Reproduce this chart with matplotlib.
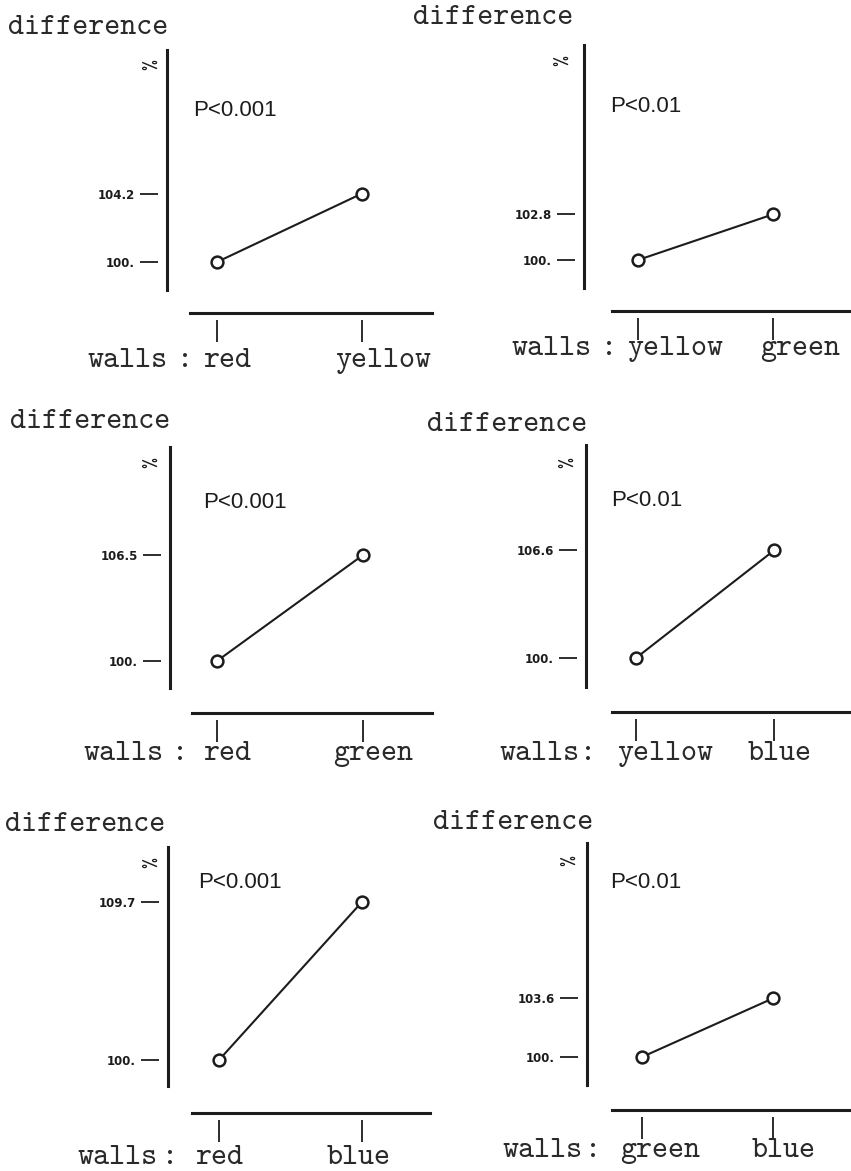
import matplotlib.pyplot as plt

W, H = 851, 1171
DPI = 100

# data: each panel compares two wall colours, the first one is the 100 % reference
pairs = [("red", "yellow"), ("yellow", "green"), ("red", "green"),
         ("yellow", "blue"), ("red", "blue"), ("green", "blue")]
base = [100.0, 100.0, 100.0, 100.0, 100.0, 100.0]
compared = [104.2, 102.8, 106.5, 106.6, 109.7, 103.6]
p_text = ["P<0.001", "P<0.01", "P<0.001", "P<0.01", "P<0.001", "P<0.01"]
base_label = "100."
title = "difference"

ink = "#1c1c1c"
PX_PER_UNIT = 16.3

# pixel layout per panel (positions on the page)
# sx: y-line x, top/bot: y-line ends, ly: x-line row, lx0/lx1: x-line ends,
# y100: row of 100, px: columns of the two points
layout = [
    dict(sx=167, top=50, bot=290, ly=313, lx0=190, lx1=432, y100=262, px=(217, 362),
         title=(8, 28), p=(193, 110), pct=(152, 65), walls=(87, 185, 203, 335, 361)),
    dict(sx=584, top=45, bot=288, ly=311, lx0=612, lx1=851, y100=260, px=(638, 773),
         title=(413, 18), p=(610, 107), pct=(563, 60), walls=(511, 609, 627, 760, 349)),
    dict(sx=170, top=447, bot=688, ly=713, lx0=192, lx1=432, y100=661, px=(217, 363),
         title=(10, 422), p=(203, 502), pct=(152, 462), walls=(83, 180, 203, 333, 754)),
    dict(sx=586, top=445, bot=687, ly=712, lx0=612, lx1=851, y100=658, px=(636, 774),
         title=(427, 425), p=(611, 500), pct=(568, 463), walls=(500, 588, 617, 748, 754)),
    dict(sx=168, top=847, bot=1086, ly=1113, lx0=192, lx1=430, y100=1060, px=(219, 362),
         title=(5, 825), p=(198, 883), pct=(152, 863), walls=(78, 170, 195, 327, 1158)),
    dict(sx=587, top=843, bot=1085, ly=1110, lx0=612, lx1=851, y100=1057, px=(642, 773),
         title=(433, 823), p=(610, 882), pct=(570, 860), walls=(503, 593, 620, 752, 1151)),
]

mono = ["cmtt10", "Liberation Mono"]   # typewriter look
sans = "Liberation Sans"
TW = 22  # typewriter font size
tw_ink = "#2a2a2a"


def fx(x):
    return x / W


def fy(y):
    return 1 - y / H


fig = plt.figure(figsize=(W / DPI, H / DPI), dpi=DPI)
fig.patch.set_facecolor("white")

for i, L in enumerate(layout):
    axh = L["ly"] - L["top"]
    ax = fig.add_axes([fx(L["sx"]), fy(L["ly"]), (L["lx1"] - L["sx"]) / W, axh / H])
    ax.patch.set_alpha(0)

    x0, x1 = L["px"]
    step = x1 - x0
    xmin = -(x0 - L["sx"]) / step
    xmax = 1 + (L["lx1"] - x1) / step
    ax.set_xlim(xmin, xmax)
    ylo = base[i] - (L["ly"] - L["y100"]) / PX_PER_UNIT
    yhi = base[i] + (L["y100"] - L["top"]) / PX_PER_UNIT
    ax.set_ylim(ylo, yhi)

    ax.plot([0, 1], [base[i], compared[i]], color=ink, lw=1.5, marker="o",
            ms=8.5, mfc="white", mec=ink, mew=1.8, clip_on=False, zorder=3)

    # visible vertical line
    ax.spines["right"].set_position(("axes", 0))
    ax.spines["right"].set_bounds(base[i] - (L["bot"] - L["y100"]) / PX_PER_UNIT, yhi)
    ax.spines["right"].set_linewidth(2.2)
    ax.spines["right"].set_color(ink)
    # invisible left spine just carries the detached tick dashes
    ax.spines["left"].set_position(("outward", 6.5))
    ax.spines["left"].set_color("none")
    ax.set_yticks([base[i], compared[i]])
    ax.set_yticklabels([base_label, "%.1f" % compared[i]], fontweight="bold",
                       family="DejaVu Sans")
    ax.tick_params(axis="y", which="both", left=True, right=False, length=13,
                   width=1.3, direction="out", pad=3.5, labelsize=8.5, colors=ink)

    # horizontal line under the plot
    ax.spines["bottom"].set_bounds((L["lx0"] - x0) / step, xmax)
    ax.spines["bottom"].set_linewidth(2.2)
    ax.spines["bottom"].set_color(ink)
    # invisible top spine moved below the line carries the "|" ticks
    ax.spines["top"].set_position(("axes", -7.0 / axh))
    ax.spines["top"].set_color("none")
    ax.set_xticks([0, 1])
    ax.xaxis.set_ticks_position("top")
    ax.tick_params(axis="x", direction="in", length=15.8, width=1.3, colors=ink,
                   labeltop=False, labelbottom=False)

    # texts
    tx, ty = L["title"]
    fig.text(fx(tx), fy(ty), title, family=mono, fontsize=TW, color=tw_ink,
             ha="left", va="center")
    px_, py_ = L["p"]
    fig.text(fx(px_), fy(py_), p_text[i], family=sans, fontsize=16, color=ink,
             ha="left", va="center")
    cx, cy = L["pct"]
    fig.text(fx(cx), fy(cy), "%", family=mono, fontsize=15, color=ink,
             rotation=90, ha="center", va="center")
    wx, colx, c1x, c2x, wy = L["walls"]
    fig.text(fx(wx), fy(wy), "walls", family=mono, fontsize=TW, color=tw_ink,
             ha="left", va="center")
    fig.text(fx(colx), fy(wy), ":", family=mono, fontsize=TW, color=tw_ink,
             ha="center", va="center")
    fig.text(fx(c1x), fy(wy), pairs[i][0], family=mono, fontsize=TW, color=tw_ink,
             ha="left", va="center")
    fig.text(fx(c2x), fy(wy), pairs[i][1], family=mono, fontsize=TW, color=tw_ink,
             ha="left", va="center")

fig.savefig("out.png", dpi=DPI, facecolor="white")
